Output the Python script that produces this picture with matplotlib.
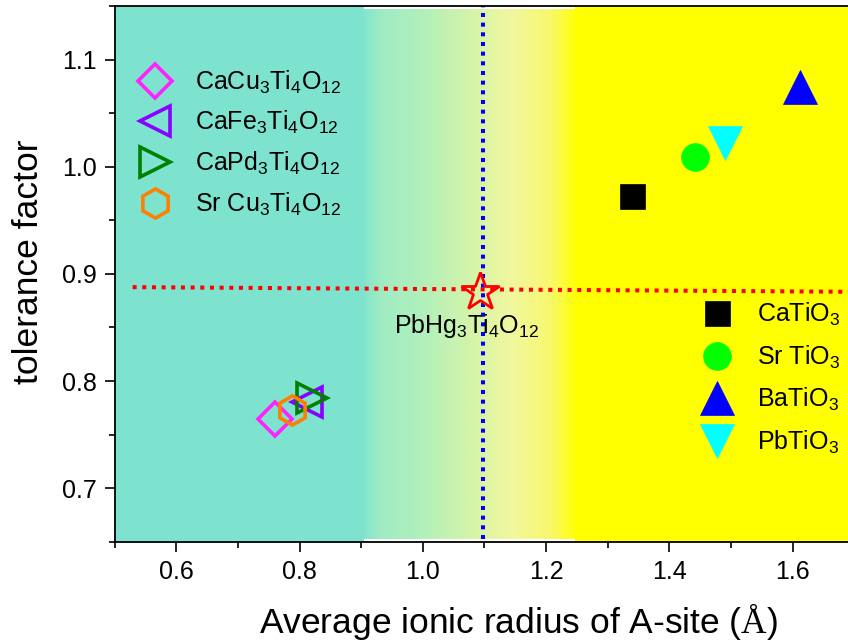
import numpy as np
import matplotlib
matplotlib.use("Agg")
import matplotlib.pyplot as plt
from matplotlib.colors import LinearSegmentedColormap

plt.rcParams['font.family'] = ['Liberation Sans', 'DejaVu Sans']
plt.rcParams['mathtext.fontset'] = 'custom'
plt.rcParams['mathtext.default'] = 'regular'
plt.rcParams['mathtext.rm'] = 'Liberation Serif'

# A4B4O12 double perovskites (hollow markers)
quad_labels = [r'CaCu$_3$Ti$_4$O$_{12}$', r'CaFe$_3$Ti$_4$O$_{12}$',
               r'CaPd$_3$Ti$_4$O$_{12}$', r'Sr Cu$_3$Ti$_4$O$_{12}$']
quad_r = [0.760, 0.812, 0.820, 0.788]
quad_t = [0.765, 0.780, 0.784, 0.773]
quad_markers = ['D', '<', '>', 'h']
quad_colors = ['#ff22ff', '#8800ff', '#008000', '#ff8000']
quad_ms = [17, 22, 22, 21]

# ABO3 simple perovskites (filled markers)
abo_labels = [r'CaTiO$_3$', r'Sr TiO$_3$', r'BaTiO$_3$', r'PbTiO$_3$']
abo_r = [1.340, 1.441, 1.612, 1.491]
abo_t = [0.9726, 1.009, 1.0744, 1.022]
abo_markers = ['s', 'o', '^', 'v']
abo_colors = ['#000000', '#00ff00', '#0000ff', '#00ffff']
abo_ms = [18, 20, 24, 24]

# Target compound
star_label = r'PbHg$_3$Ti$_4$O$_{12}$'
star_r = 1.093
star_t = 0.8834

# Reference lines
vline_r = 1.097
hline_r = [0.529, 1.69]
hline_t = [0.8876, 0.8833]

fig = plt.figure(figsize=(8.48, 6.43), dpi=100)
ax = fig.add_axes([0.1353, 0.1575, 0.8647, 0.8332])
xmin, xmax, ymin, ymax = 0.5, 1.69, 0.65, 1.15
ax.set_xlim(xmin, xmax)
ax.set_ylim(ymin, ymax)

# Background: teal -> gradient -> yellow
teal = '#7de3cf'
ax.axvspan(xmin, 0.905, color=teal, lw=0, zorder=0)
ax.axvspan(1.247, xmax, color='#ffff00', lw=0, zorder=0)
stops = [(0.0, '#84e5cd'), (0.08, '#a0ecc3'), (0.27, '#b0f0bb'),
         (0.50, '#d3f4aa'), (0.70, '#f1f79e'), (0.88, '#f8f870'),
         (1.0, '#ffff10')]
cmap = LinearSegmentedColormap.from_list('bg', stops)
grad = np.linspace(0, 1, 400)[None, :]
ax.imshow(grad, cmap=cmap, aspect='auto', extent=(0.905, 1.247, 0.6528, 1.1472),
          zorder=0, interpolation='bicubic')

# Reference lines
ax.plot([vline_r, vline_r], [0.6525, 1.15], color='#0000ff', lw=2.9,
        linestyle=(0, (1, 1.4)), dash_capstyle='butt', zorder=2)
ax.plot(hline_r, hline_t, color='#ff0000', lw=2.9,
        linestyle=(0, (1, 1.4)), dash_capstyle='butt', zorder=2)

quad_handles = []
for r, t, m, c, ms, lab in zip(quad_r, quad_t, quad_markers, quad_colors, quad_ms, quad_labels):
    h, = ax.plot([r], [t], linestyle='none', marker=m, ms=ms, mfc='none',
                 mec=c, mew=2.6, label=lab, zorder=3)
    quad_handles.append(h)

abo_handles = []
for r, t, m, c, ms, lab in zip(abo_r, abo_t, abo_markers, abo_colors, abo_ms, abo_labels):
    h, = ax.plot([r], [t], linestyle='none', marker=m, ms=ms, mfc=c,
                 mec=c, mew=0.5, label=lab, zorder=3)
    abo_handles.append(h)

ax.plot([star_r], [star_t], linestyle='none', marker='*', ms=29, mfc='none',
        mec='#ff0000', mew=2.0, zorder=4)
ax.text(1.071, 0.851, star_label, fontsize=18, ha='center', va='center', zorder=5)

leg1 = ax.legend(handles=quad_handles, loc='upper left', bbox_to_anchor=(0.007, 0.921),
                 frameon=False, fontsize=18, handlelength=1.2, handletextpad=1.0,
                 labelspacing=0.54, borderaxespad=0.4, numpoints=1)
ax.add_artist(leg1)
ax.legend(handles=abo_handles, loc='upper left', bbox_to_anchor=(0.7735, 0.487),
          frameon=False, fontsize=18, handlelength=1.2, handletextpad=1.0,
          labelspacing=0.62, borderaxespad=0.4, numpoints=1)

ax.set_xticks([0.6, 0.8, 1.0, 1.2, 1.4, 1.6])
ax.set_xticks(np.arange(0.5, 1.70, 0.1), minor=True)
ax.set_yticks([0.7, 0.8, 0.9, 1.0, 1.1])
ax.set_yticks(np.arange(0.65, 1.151, 0.05), minor=True)
ax.set_xticklabels(['0.6', '0.8', '1.0', '1.2', '1.4', '1.6'])
ax.set_yticklabels(['0.7', '0.8', '0.9', '1.0', '1.1'])
ax.tick_params(which='major', direction='out', length=7, width=1.2, labelsize=18, pad=6)
ax.tick_params(which='minor', direction='out', length=4, width=1.2)
ax.spines['right'].set_visible(False)
for s in ('left', 'bottom', 'top'):
    ax.spines[s].set_linewidth(1.3)

ax.set_xlabel(r'Average ionic radius of A-site ($\mathrm{\AA}$)', fontsize=25.5)
ax.set_ylabel('tolerance factor', fontsize=25.5)
ax.xaxis.set_label_coords(0.551, -0.111)
ax.yaxis.set_label_coords(-0.0955, 0.522)

fig.savefig('out.png', dpi=100)
